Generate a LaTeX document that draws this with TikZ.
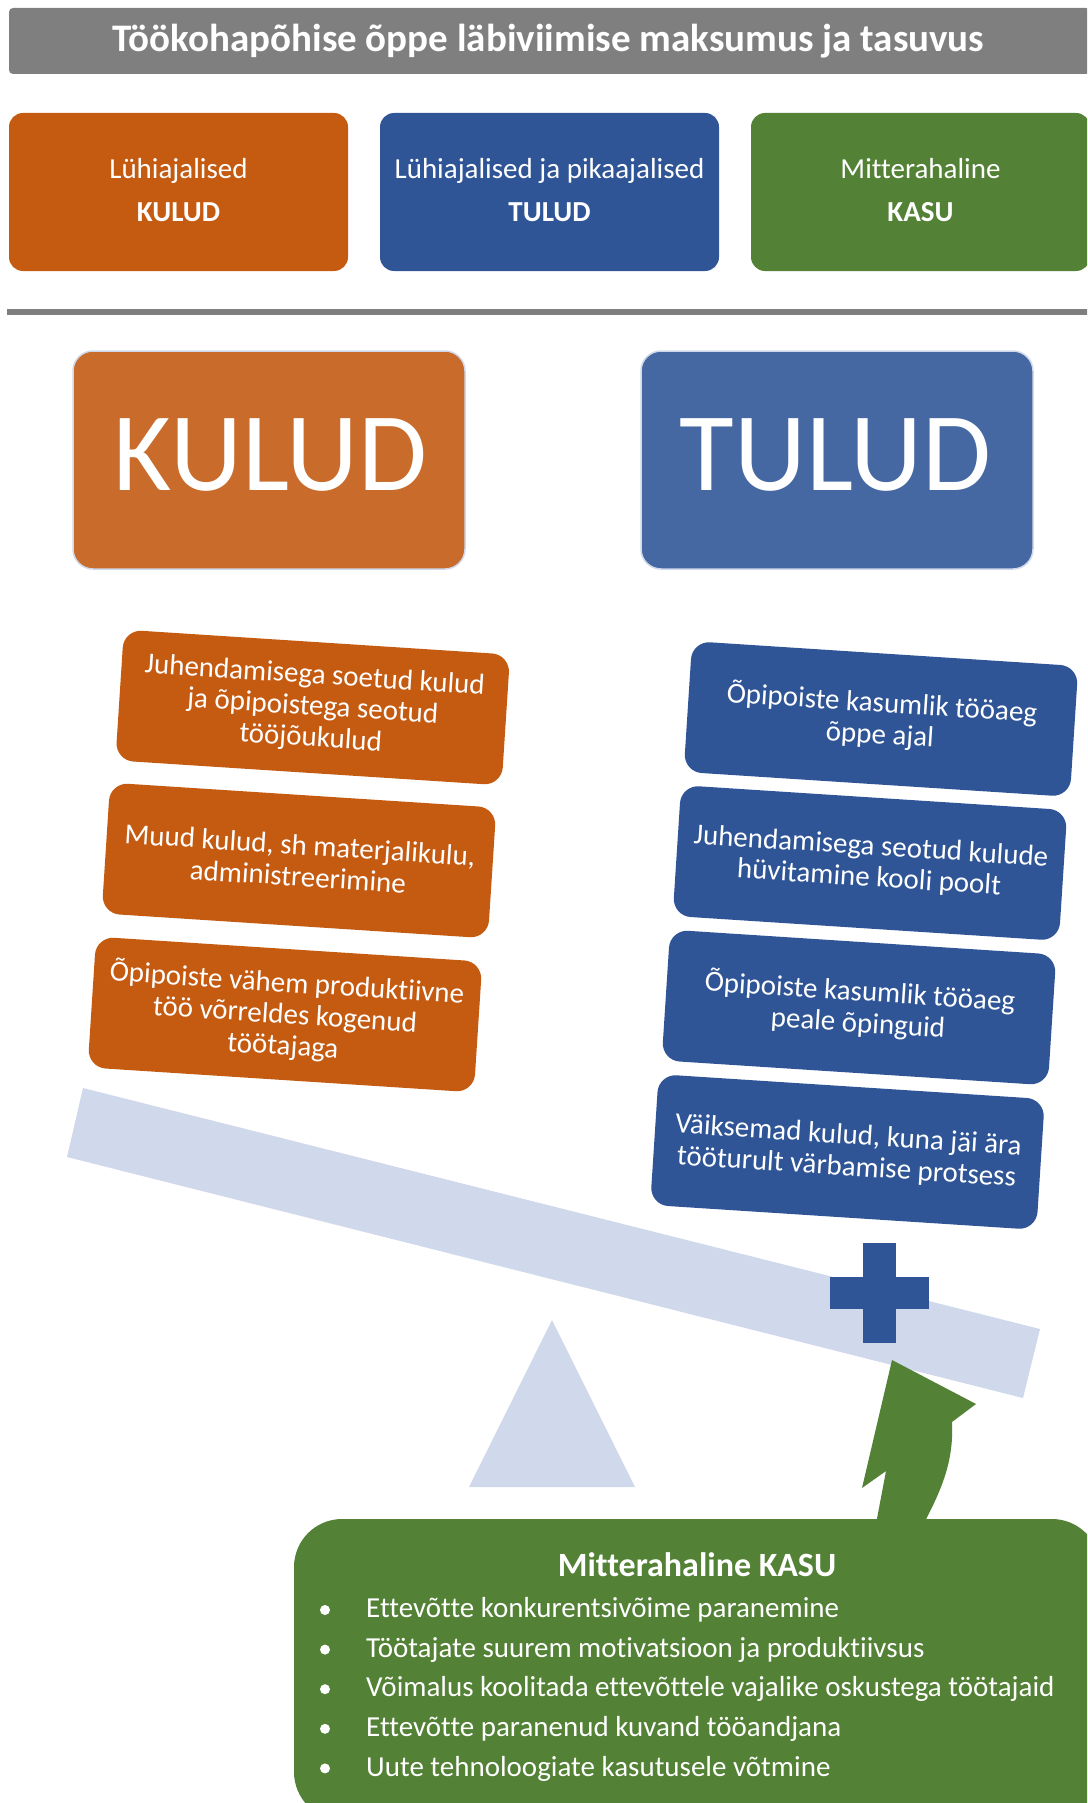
\documentclass[tikz,border=0pt]{standalone}
\usepackage{fontspec}
\setmainfont{Carlito}[Ligatures={NoCommon}]
\definecolor{cgray}{HTML}{7F7F7F}
\definecolor{corange}{HTML}{C55A11}
\definecolor{cblue}{HTML}{2F5597}
\definecolor{cgreen}{HTML}{538135}
\definecolor{corangeL}{HTML}{C96B2A}
\definecolor{cblueL}{HTML}{4568A2}
\definecolor{cbeam}{HTML}{D0D8EB}
\begin{document}
\begin{tikzpicture}[x=1pt,y=-1pt,
  topbox/.style={rounded corners=14pt, minimum width=339pt, minimum height=158pt, inner sep=0pt},
  toptxt/.style={anchor=base, text=white, font=\fontsize{29}{31}\selectfont},
  topbold/.style={anchor=base, text=white, font=\fontsize{29}{31}\selectfont\bfseries},
  bigbox/.style={rounded corners=20pt, minimum width=392pt, minimum height=218pt, inner sep=0pt, draw=cbeam, line width=1.5pt},
  bigtxt/.style={anchor=base, text=white, font=\fontsize{112}{115}\selectfont},
  tiltbox/.style={rotate=-3.7, rounded corners=18pt, minimum width=387pt, minimum height=131pt, inner sep=0pt, text=white, align=center, font=\fontsize{29}{31.5}\selectfont},
  listtxt/.style={anchor=base west, text=white, font=\fontsize{29}{31}\selectfont},
]
\useasboundingbox (0,0) rectangle (1087,1803);
\clip (0,0) rectangle (1087,1803);

% title bar
\node[fill=cgray, rounded corners=4pt, minimum width=1081pt, minimum height=66pt, inner sep=0pt] (titlebar) at (549.5,41) {};
\node[anchor=base, text=white, font=\fontsize{39}{41}\selectfont\bfseries] (title) at (548.5,51.7) {Töökohapõhise õppe läbiviimise maksumus ja tasuvus};

% top three boxes
\node[topbox, fill=corange] (t1) at (178.5,192) {};
\node[topbox, fill=cblue] (t2) at (549.5,192) {};
\node[topbox, fill=cgreen] (t3) at (920.5,192) {};
\node[toptxt] (t1a) at (178.5,178.3) {Lühiajalised};
\node[topbold] (t1b) at (178.5,221.7) {KULUD};
\node[toptxt] (t2a) at (549.5,178.3) {Lühiajalised ja pikaajalised};
\node[topbold] (t2b) at (549.5,221.7) {TULUD};
\node[toptxt] (t3a) at (920.5,178.3) {Mitterahaline};
\node[topbold] (t3b) at (920.5,221.7) {KASU};

% separator
\coordinate (sepL) at (7,312);
\coordinate (sepR) at (1090,312);
\draw[cgray, line width=6pt] (sepL) -- (sepR);

% big boxes
\node[bigbox, fill=corangeL] (kbig) at (269,460) {};
\node[bigbox, fill=cblueL] (tbig) at (837,460) {};
\node[bigtxt] (ktxt) at (270.5,490) {KULUD};
\node[bigtxt] (ttxt) at (835.7,490) {TULUD};

% beam, fulcrum
\fill[cbeam] (83,1088) -- (1040,1329) -- (1023,1398) -- (67,1157) -- cycle;
\fill[cbeam] (552,1320) -- (635,1487) -- (469,1487) -- cycle;

% plus
\fill[cblue] (863,1243) rectangle (896,1343);
\fill[cblue] (830,1277) rectangle (929,1309);

% tilted cost boxes
\node[tiltbox, fill=corange] (k1) at (312.75,707.5) {Juhendamisega soetud kulud\\ja õpipoistega seotud\\tööjõukulud};
\node[tiltbox, fill=corange] (k2) at (299,860.5) {Muud kulud, sh materjalikulu,\\administreerimine};
\node[tiltbox, fill=corange] (k3) at (285,1014.5) {Õpipoiste vähem produktiivne\\töö võrreldes kogenud\\töötajaga};

% tilted revenue boxes
\node[tiltbox, fill=cblue] (r1) at (881,719) {Õpipoiste kasumlik tööaeg\\õppe ajal};
\node[tiltbox, fill=cblue] (r2) at (870,863) {Juhendamisega seotud kulude\\hüvitamine kooli poolt};
\node[tiltbox, fill=cblue] (r3) at (859,1007.5) {Õpipoiste kasumlik tööaeg\\peale õpinguid};
\node[tiltbox, fill=cblue] (r4) at (847.5,1152) {Väiksemad kulud, kuna jäi ära\\tööturult värbamise protsess};

% green curved arrow
\fill[cgreen] (892,1360) -- (976,1404) -- (952,1422) .. controls (954,1465) and (940,1495) .. (912,1545) -- (872,1545) -- (886,1471) -- (862,1488) -- cycle;

% green benefit box
\node[fill=cgreen, rounded corners=48pt, minimum width=806pt, minimum height=301pt, inner sep=0pt] (kasu) at (697,1669.5) {};
\node[anchor=base, text=white, font=\fontsize{34}{36}\selectfont\bfseries] (kasut) at (697,1576) {Mitterahaline KASU};

\foreach \i/\t in {0/{Ettevõtte konkurentsivõime paranemine},
                   1/{Töötajate suurem motivatsioon ja produktiivsus},
                   2/{Võimalus koolitada ettevõttele vajalike oskustega töötajaid},
                   3/{Ettevõtte paranenud kuvand tööandjana},
                   4/{Uute tehnoloogiate kasutusele võtmine}} {
  \fill[white] (325,1610+39.6*\i) circle (5pt);
  \node[listtxt] (li\i) at (362.7,1617.7+39.6*\i) {\t};
}
\end{tikzpicture}
\end{document}
